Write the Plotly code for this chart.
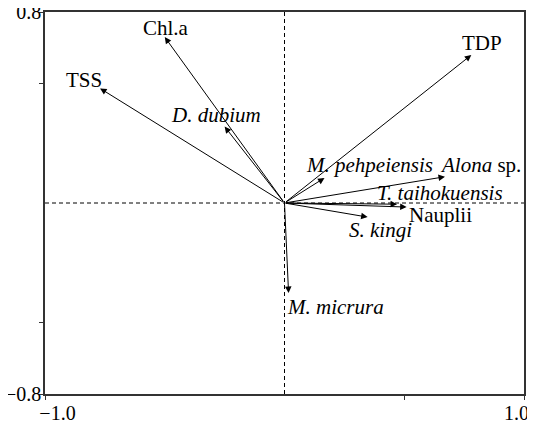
import plotly.graph_objects as go

# Biplot vectors (axis 1, axis 2)
names = ["TDP", "Chl.a", "TSS", "D. dubium", "M. pehpeiensis", "Alona sp.",
         "T. taihokuensis", "Nauplii", "S. kingi", "M. micrura"]
vx = [0.78, -0.50, -0.77, -0.25, 0.167, 0.67, 0.47, 0.51, 0.347, 0.017]
vy = [0.62, 0.695, 0.48, 0.32, 0.105, 0.11, -0.005, -0.017, -0.059, -0.377]

label_html = ["TDP", "Chl.a", "TSS", "<i>D. dubium</i>", "<i>M. pehpeiensis</i>",
              "<i>Alona</i> sp.", "<i>T. taihokuensis</i>", "Nauplii",
              "<i>S. kingi</i>", "<i>M. micrura</i>"]
label_x = [0.823, -0.493, -0.839, -0.288, 0.355, 0.819, 0.651, 0.651, 0.401, 0.213]
label_y = [0.670, 0.733, 0.515, 0.369, 0.159, 0.159, 0.042, -0.050, -0.113, -0.436]

x_ticks = [-1.0, 0.5, 1.0]
x_ticktext = ["\u00a0" * 5 + "\u22121.0", "", "1.0" + "\u00a0" * 3]
y_ticks = [-0.8, -0.5, 0.5, 0.8]
y_ticktext = ["\u22120.8", "", "", "0.8"]

font = "'Times New Roman', 'Liberation Serif', Tinos, Times, 'DejaVu Serif', serif"

fig = go.Figure()
fig.add_trace(go.Scatter(x=[None], y=[None], showlegend=False))

annotations = []
for x, y in zip(vx, vy):
    annotations.append(dict(x=x, y=y, ax=0, ay=0, xref="x", yref="y",
                            axref="x", ayref="y", text="", showarrow=True,
                            arrowhead=2, arrowsize=1.3, arrowwidth=1,
                            arrowcolor="black", standoff=0, startstandoff=0))
for t, x, y in zip(label_html, label_x, label_y):
    annotations.append(dict(x=x, y=y, xref="x", yref="y", text=t,
                            showarrow=False, xanchor="center", yanchor="middle",
                            font=dict(family=font, size=21, color="black")))

# page body has an 8px default margin: figure is shrunk to compensate
fig.update_layout(
    width=527, height=416,
    margin=dict(l=37, r=11, t=4, b=30),
    plot_bgcolor="white", paper_bgcolor="white",
    showlegend=False,
    font=dict(family=font, size=20, color="black"),
    annotations=annotations,
    shapes=[
        dict(type="line", xref="x", yref="y", x0=0, x1=0, y0=-0.8, y1=0.8,
             line=dict(color="black", width=1, dash="4px,3px")),
        dict(type="line", xref="x", yref="y", x0=-1, x1=1, y0=0, y1=0,
             line=dict(color="black", width=1, dash="4px,3px")),
    ],
    xaxis=dict(range=[-1, 1], tickvals=x_ticks, ticktext=x_ticktext,
               showgrid=False, zeroline=False, showline=True, mirror=True,
               linecolor="#333", linewidth=1.5, ticks="outside", ticklen=4,
               tickcolor="#333", automargin=False, ticklabeloverflow="allow",
               ticklabelstandoff=-4,
               tickfont=dict(family=font, size=20, color="black")),
    yaxis=dict(range=[-0.8, 0.8], tickvals=y_ticks, ticktext=y_ticktext,
               showgrid=False, zeroline=False, showline=True, mirror=True,
               linecolor="#333", linewidth=1.5, ticks="outside", ticklen=4,
               tickcolor="#333", automargin=False, ticklabeloverflow="allow",
               ticklabelstandoff=-6,
               tickfont=dict(family=font, size=20, color="black")),
)

fig.write_html("out.html")
